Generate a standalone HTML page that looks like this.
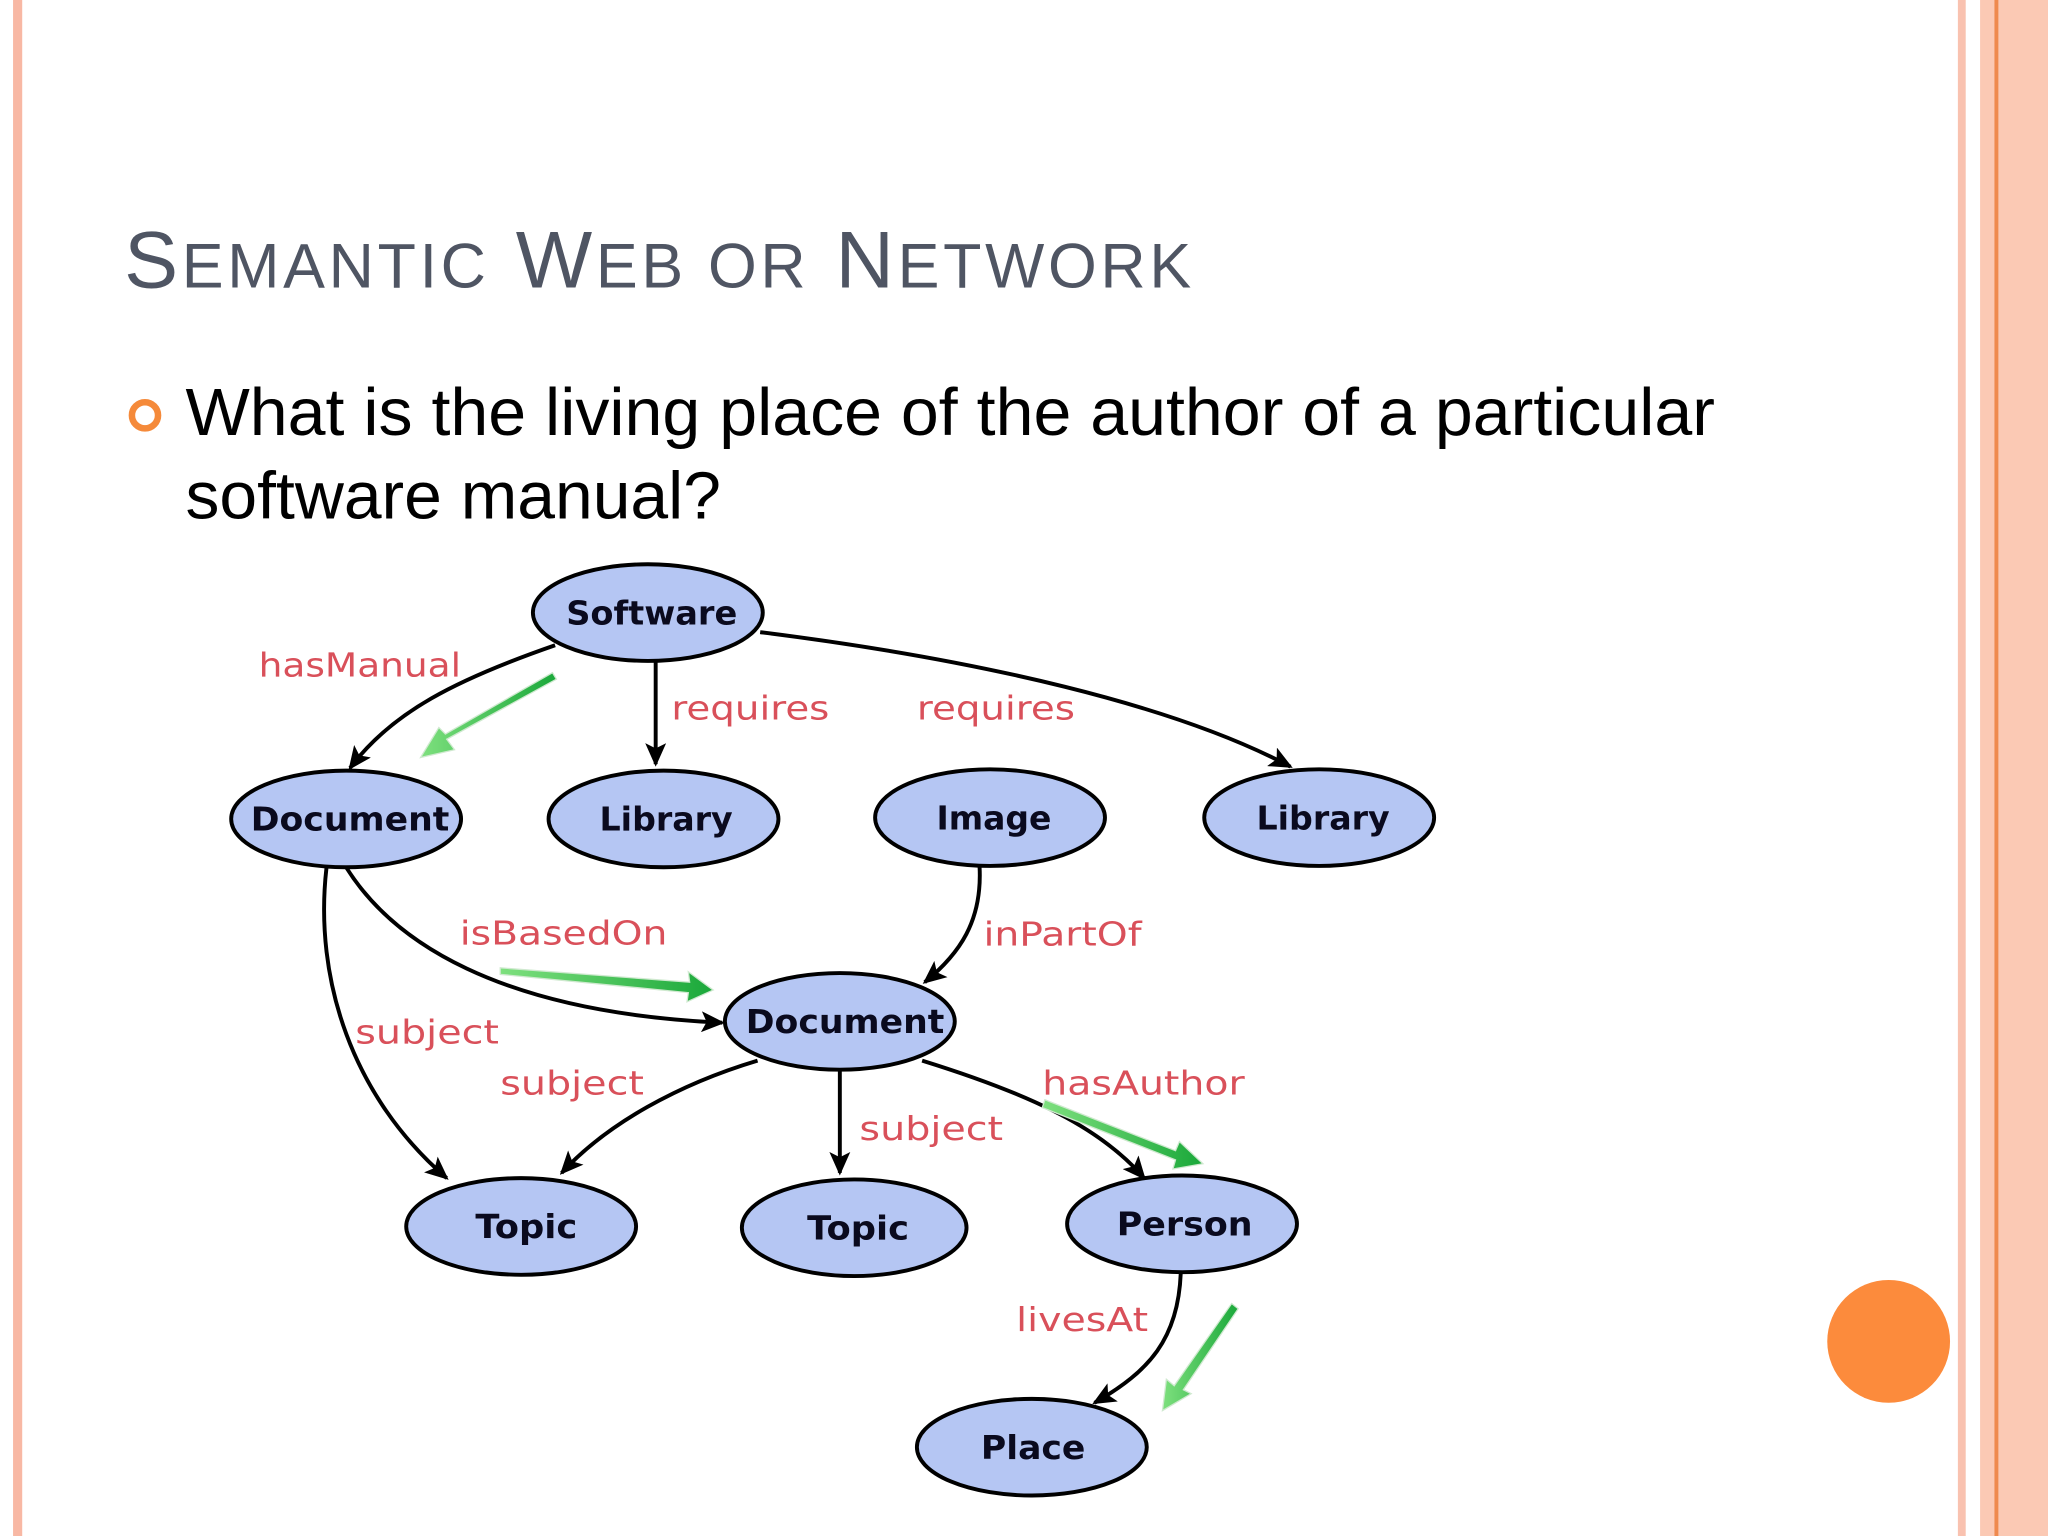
<!DOCTYPE html>
<html><head><style>
html,body{margin:0;padding:0;background:#fff;}
svg{display:block}
</style></head><body>
<svg width="2048" height="1536" viewBox="0 0 1568 1176" xmlns="http://www.w3.org/2000/svg">
<defs>
<marker id="ah" markerWidth="18" markerHeight="16" refX="16" refY="8" orient="auto" markerUnits="userSpaceOnUse" viewBox="0 0 18 16">
<path d="M0,0 L18,8 L0,16 L4,8 z" fill="#000"/>
</marker>
<linearGradient id="gg" x1="0" y1="0" x2="1" y2="0"><stop offset="0" stop-color="#7ee07e"/><stop offset="1" stop-color="#1aa83a"/></linearGradient>
</defs>
<rect width="1568" height="1176" fill="#fff"/>
<rect x="10" y="0" width="7" height="1176" fill="#f8b8a4"/>
<rect x="1499" y="0" width="6" height="1176" fill="#f9c2b0"/>
<rect x="1516" y="0" width="52" height="1176" fill="#fbc9b4"/>
<rect x="1527" y="0" width="3" height="1176" fill="#ef8a4e"/>
<circle cx="1446" cy="1027" r="47" fill="#fc8b3c"/>
<text x="95" y="220" font-family="Liberation Sans, sans-serif" font-size="62" fill="#4f5563" textLength="817" lengthAdjust="spacing">S<tspan font-size="48">EMANTIC</tspan> W<tspan font-size="48">EB OR</tspan> N<tspan font-size="48">ETWORK</tspan></text>
<circle cx="111" cy="318" r="10" fill="none" stroke="#f58a3a" stroke-width="5"/>
<text font-family="Liberation Sans, sans-serif" font-size="51" fill="#000"><tspan x="142" y="333" textLength="1171" lengthAdjust="spacingAndGlyphs">What is the living place of the author of a particular</tspan><tspan x="142" y="397" textLength="410" lengthAdjust="spacingAndGlyphs">software manual?</tspan></text>
<g fill="none" stroke="#000" stroke-width="3" marker-end="url(#ah)">
<path d="M425,494 C350,520 300,545 268,588"/>
<path d="M502,507 L502,585"/>
<path d="M582,484 C750,505 900,540 988,587"/>
<path d="M750,664 C752,705 735,730 708,752"/>
<path d="M265,664 C300,720 380,775 553,783"/>
<path d="M250,664 C240,750 270,840 342,902"/>
<path d="M580,812 C520,830 465,860 430,898"/>
<path d="M643,820 L643,898"/>
<path d="M706,812 C780,835 840,860 876,902"/>
<path d="M904,975 C902,1025 880,1050 838,1074"/>
</g>
<g fill="url(#gg)" stroke="#cfe9cf" stroke-width="1">
<path d="M426,520 L342,566 L348,574 L322,580 L336,557 L341,562 L423,515 z"/>
<path d="M383,741 L528,752 L527,744 L546,758 L526,767 L527,760 L383,746 z"/>
<path d="M800,842 L900,881 L903,874 L921,891 L898,895 L900,888 L798,848 z"/>
<path d="M948,1002 L906,1064 L912,1067 L890,1080 L893,1056 L899,1061 L943,998 z"/>
</g>
<g fill="#b5c6f3" stroke="#000" stroke-width="3">
<ellipse cx="496" cy="469" rx="88" ry="37"/>
<ellipse cx="265" cy="627" rx="88" ry="37"/>
<ellipse cx="508" cy="627" rx="88" ry="37"/>
<ellipse cx="758" cy="626" rx="88" ry="37"/>
<ellipse cx="1010" cy="626" rx="88" ry="37"/>
<ellipse cx="643" cy="782" rx="88" ry="37"/>
<ellipse cx="399" cy="939" rx="88" ry="37"/>
<ellipse cx="654" cy="940" rx="86" ry="37"/>
<ellipse cx="905" cy="937" rx="88" ry="37"/>
<ellipse cx="790" cy="1108" rx="88" ry="37"/>
</g>
<g font-family="DejaVu Sans, sans-serif" font-weight="bold" font-size="25" fill="#0a0a1e" text-anchor="middle">
<text x="499" y="478" textLength="131" lengthAdjust="spacingAndGlyphs">Software</text>
<text x="268" y="636" textLength="152" lengthAdjust="spacingAndGlyphs">Document</text>
<text x="510" y="636" textLength="102" lengthAdjust="spacingAndGlyphs">Library</text>
<text x="761" y="635" textLength="88" lengthAdjust="spacingAndGlyphs">Image</text>
<text x="1013" y="635" textLength="102" lengthAdjust="spacingAndGlyphs">Library</text>
<text x="647" y="791" textLength="152" lengthAdjust="spacingAndGlyphs">Document</text>
<text x="403" y="948" textLength="78" lengthAdjust="spacingAndGlyphs">Topic</text>
<text x="657" y="949" textLength="78" lengthAdjust="spacingAndGlyphs">Topic</text>
<text x="907" y="946" textLength="104" lengthAdjust="spacingAndGlyphs">Person</text>
<text x="791" y="1117" textLength="80" lengthAdjust="spacingAndGlyphs">Place</text>
</g>
<g font-family="DejaVu Sans, sans-serif" font-size="25" fill="#d9505a" lengthAdjust="spacingAndGlyphs">
<text x="198" y="518" textLength="155" lengthAdjust="spacingAndGlyphs">hasManual</text>
<text x="514" y="551" textLength="121" lengthAdjust="spacingAndGlyphs">requires</text>
<text x="702" y="551" textLength="121" lengthAdjust="spacingAndGlyphs">requires</text>
<text x="352" y="723" textLength="159" lengthAdjust="spacingAndGlyphs">isBasedOn</text>
<text x="753" y="724" textLength="121" lengthAdjust="spacingAndGlyphs">inPartOf</text>
<text x="272" y="799" textLength="110" lengthAdjust="spacingAndGlyphs">subject</text>
<text x="383" y="838" textLength="110" lengthAdjust="spacingAndGlyphs">subject</text>
<text x="798" y="838" textLength="155" lengthAdjust="spacingAndGlyphs">hasAuthor</text>
<text x="658" y="873" textLength="110" lengthAdjust="spacingAndGlyphs">subject</text>
<text x="778" y="1019" textLength="101" lengthAdjust="spacingAndGlyphs">livesAt</text>
</g>
</svg>
</body></html>
